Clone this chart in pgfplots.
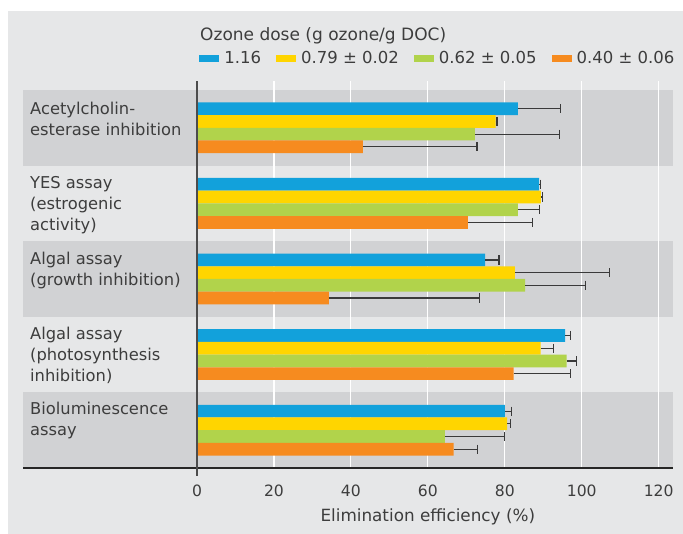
\documentclass[border=0pt]{standalone}
\usepackage{pgfplots}
\pgfplotsset{compat=1.18}
\usepackage{pgfplotstable}
\usepackage{fontspec}
\setmainfont{DejaVu Sans}

\definecolor{bgcol}{HTML}{E6E7E8}
\definecolor{bandcol}{HTML}{D1D2D4}
\definecolor{txt}{HTML}{3D3D3D}
\definecolor{cblue}{HTML}{12A1DB}
\definecolor{cyellow}{HTML}{FFD500}
\definecolor{cgreen}{HTML}{B1D34B}
\definecolor{corange}{HTML}{F68B1F}
\definecolor{errcol}{HTML}{3A3A3A}

% elimination efficiency (%) and upper error, per ozone dose
% pos: 4 = acetylcholinesterase ... 0 = bioluminescence
\pgfplotstableread{
pos val err
4 83.4 11.0
3 88.9 0.4
2 74.9 3.6
1 95.7 1.4
0 80.0 1.8
}\tblue
\pgfplotstableread{
pos val err
4 77.6 0.4
3 89.4 0.4
2 82.6 24.6
1 89.3 3.3
0 80.6 0.8
}\tyellow
\pgfplotstableread{
pos val err
4 72.2 22.1
3 83.4 5.6
2 85.3 15.6
1 96.1 2.5
0 64.4 15.5
}\tgreen
\pgfplotstableread{
pos val err
4 43.1 29.7
3 70.4 16.8
2 34.3 39.1
1 82.3 14.7
0 66.7 6.2
}\torange

\newcommand{\lab}{\fontsize{16.3bp}{21bp}\selectfont}

\pgfplotsset{
  dosebar/.style n args={2}{
    xbar, bar width=0.168, bar shift=#2, fill=#1, draw=none,
    legend image code/.code={\fill[#1] (0bp,-3.5bp) rectangle (20bp,3.5bp);},
  },
  doseerr/.style={
    forget plot, mark=none, draw=none,
    error bars/.cd, x dir=plus, x explicit,
      error bar style={draw=errcol, line width=1.2bp},
      error mark=|,
      error mark options={draw=errcol, line width=1.2bp, mark size=4.6bp, rotate=0},
  },
}

\begin{document}
\begin{tikzpicture}[x=1bp,y=1bp]
\useasboundingbox (0,0) rectangle (683,534);
% panel background and alternating category bands
\fill[bgcol] (8,0) rectangle (683,523);
\fill[bandcol] (23,66) rectangle (673.3,141.6);
\fill[bandcol] (23,217.2) rectangle (673.3,292.8);
\fill[bandcol] (23,368.4) rectangle (673.3,444);

\begin{axis}[
  at={(23bp,66bp)}, anchor=south west,
  scale only axis, width=650.3bp, height=387bp,
  xmin=-45.23, xmax=123.81, ymin=-0.5, ymax=4.619,
  clip=false,
  axis x line=bottom, axis y line=none,
  x axis line style={-, draw=black!85, line width=1.3bp},
  xtick={0,20,...,120}, ytick=\empty,
  major tick length=0pt,
  xmajorgrids, grid style={white, line width=1.2bp},
  /pgf/number format/assume math mode=true,
  xticklabel style={font=\fontsize{15.6bp}{18bp}\selectfont, text=txt,
    inner sep=0pt, anchor=north, yshift=-17bp},
  legend columns=4,
  legend style={at={(0.2711,1.0589)}, anchor=west, draw=none, fill=none,
    inner sep=0pt, outer sep=0pt, text=txt,
    font=\fontsize{16.5bp}{19bp}\selectfont,
    nodes={inner sep=0pt},
    /tikz/every odd column/.append style={column sep=5bp},
    /tikz/every even column/.append style={column sep=15bp}},
]
\addplot[dosebar={cblue}{0.252}] table[x=val, y=pos] {\tblue};
\addlegendentry{1.16}
\addplot[dosebar={cyellow}{0.084}] table[x=val, y=pos] {\tyellow};
\addlegendentry{0.79 ± 0.02}
\addplot[dosebar={cgreen}{-0.084}] table[x=val, y=pos] {\tgreen};
\addlegendentry{0.62 ± 0.05}
\addplot[dosebar={corange}{-0.252}] table[x=val, y=pos] {\torange};
\addlegendentry{0.40 ± 0.06}

% one-sided error bars, drawn over the bars at each bar's centre line
\addplot[doseerr] table[x=val, y expr=\thisrow{pos}+0.252, x error=err] {\tblue};
\addplot[doseerr] table[x=val, y expr=\thisrow{pos}+0.084, x error=err] {\tyellow};
\addplot[doseerr] table[x=val, y expr=\thisrow{pos}-0.084, x error=err] {\tgreen};
\addplot[doseerr] table[x=val, y expr=\thisrow{pos}-0.252, x error=err] {\torange};
\end{axis}

% zero line
\draw[line width=1.3bp, color=black!70] (197,58) -- (197,453);

% legend title and axis label
\node[anchor=base west, inner sep=0pt, text=txt, font=\fontsize{17bp}{20bp}\selectfont]
  at (200,493.3) {Ozone dose (g ozone/g DOC)};
\node[anchor=base, inner sep=0pt, text=txt, font=\fontsize{16.8bp}{20bp}\selectfont]
  at (427.8,12) {Elimination efficiency (\%)};

% category labels
\begin{scope}[every node/.style={anchor=base west, inner sep=0pt, text=txt, font=\lab}]
\node at (30,419) {Acetylcholin-};
\node at (30,398) {esterase inhibition};
\node at (30,345) {YES assay};
\node at (30,324) {(estrogenic};
\node at (30,303) {activity)};
\node at (30,269) {Algal assay};
\node at (30,248) {(growth inhibition)};
\node at (30,194) {Algal assay};
\node at (30,173) {(photosynthesis};
\node at (30,152) {inhibition)};
\node at (30,119) {Bioluminescence};
\node at (30,98) {assay};
\end{scope}
\end{tikzpicture}
\end{document}
